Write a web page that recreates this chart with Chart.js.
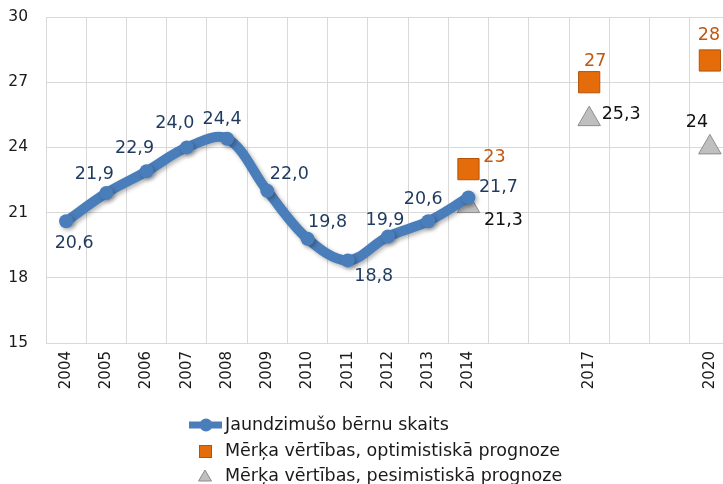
<!DOCTYPE html>
<html>
<head>
<meta charset="utf-8">
<script src="https://cdn.jsdelivr.net/npm/chart.js@4.4.0/dist/chart.umd.min.js"></script>
<style>
  html, body { margin: 0; padding: 0; background: #fff; overflow: hidden; }
  #wrap { width: 746px; height: 484px; }
</style>
</head>
<body>
<div id="wrap"><canvas id="chart" width="746" height="484"></canvas></div>
<script>
// dati
const years = ['2004', '2005', '2006', '2007', '2008', '2009', '2010', '2011', '2012', '2013', '2014',
  '2015', '2016', '2017', '2018', '2019', '2020'];
const shownYears = ['2004', '2005', '2006', '2007', '2008', '2009', '2010', '2011', '2012', '2013', '2014', '2017', '2020'];

const births = [20.6, 21.9, 22.9, 24.0, 24.4, 22.0, 19.8, 18.8, 19.9, 20.6, 21.7,
  null, null, null, null, null, null];
const optimistic = [null, null, null, null, null, null, null, null, null, null, 23,
  null, null, 27, null, null, 28];
const pessimistic = [null, null, null, null, null, null, null, null, null, null, 21.3,
  null, null, 25.3, null, null, 24];

const seriesNames = [
  'Jaundzimušo bērnu skaits',
  'Mērķa vērtības, optimistiskā prognoze',
  'Mērķa vērtības, pesimistiskā prognoze'
];

// etiķešu nobīdes (dx, dy) no punkta
const birthLabelOffsets = [[8, 22], [-12, -19], [-12, -23], [-12, -24], [-5, -19], [22, -16],
  [20, -16], [26, 16], [-3, -16], [-5, -22], [30, -10]];
const optLabelOffsets = { 10: [26, -12], 13: [6, -21], 16: [-1, -25] };
const pesLabelOffsets = { 10: [35, 14], 13: [32, -5], 16: [-13, -25] };

const FONT = '"DejaVu Sans", sans-serif';
const BLUE = '#4a7ebb';
const ORANGE = '#e46c0a';
const GREY = '#bfbfbf';

function fmt(v, digits) {
  return (digits ? v.toFixed(digits) : String(v)).replace('.', ',');
}

const lineShadow = {
  id: 'lineShadow',
  beforeDatasetDraw(chart, args) {
    if (args.index !== 0) return;
    const ctx = chart.ctx;
    ctx.save();
    ctx.shadowColor = 'rgba(0,0,0,0.3)';
    ctx.shadowBlur = 4;
    ctx.shadowOffsetX = 2;
    ctx.shadowOffsetY = 2;
  },
  afterDatasetDraw(chart, args) {
    if (args.index !== 0) return;
    chart.ctx.restore();
  }
};

const valueLabels = {
  id: 'valueLabels',
  afterDatasetsDraw(chart) {
    const ctx = chart.ctx;
    ctx.save();
    ctx.font = '17.5px ' + FONT;
    ctx.textAlign = 'center';
    ctx.textBaseline = 'middle';

    const sets = [
      { data: births, offs: birthLabelOffsets, color: '#1f3a5f', digits: 1 },
      { data: optimistic, offs: optLabelOffsets, color: '#c0580f', digits: 0 },
      { data: pessimistic, offs: pesLabelOffsets, color: '#111111', digits: 0 }
    ];
    sets.forEach((s, di) => {
      const meta = chart.getDatasetMeta(di);
      s.data.forEach((v, i) => {
        if (v === null) return;
        const el = meta.data[i];
        const off = s.offs[i] || [0, -20];
        ctx.fillStyle = s.color;
        ctx.fillText(fmt(v, s.digits), el.x + off[0], el.y + off[1]);
      });
    });
    ctx.restore();
  }
};

// leģenda vienā kolonnā zem ass
const stackedLegend = {
  id: 'stackedLegend',
  afterDraw(chart) {
    const ctx = chart.ctx;
    const mx = 205;
    const textX = 225;
    const rows = [425, 451, 476];
    ctx.save();
    ctx.font = '17.5px ' + FONT;
    ctx.textBaseline = 'middle';
    ctx.textAlign = 'left';

    // zilā līnija ar punktu
    ctx.strokeStyle = BLUE;
    ctx.lineWidth = 7;
    ctx.beginPath();
    ctx.moveTo(189, rows[0]);
    ctx.lineTo(222, rows[0]);
    ctx.stroke();
    ctx.fillStyle = BLUE;
    ctx.beginPath();
    ctx.arc(mx + 1, rows[0], 6.5, 0, Math.PI * 2);
    ctx.fill();

    // oranžais kvadrāts
    ctx.fillStyle = ORANGE;
    ctx.strokeStyle = '#b45408';
    ctx.lineWidth = 1;
    ctx.fillRect(mx - 6, rows[1] - 6, 13, 13);
    ctx.strokeRect(mx - 5.5, rows[1] - 5.5, 12, 12);

    // pelēkais trijstūris
    ctx.fillStyle = GREY;
    ctx.strokeStyle = '#8c8c8c';
    ctx.beginPath();
    ctx.moveTo(mx, rows[2] - 6);
    ctx.lineTo(mx + 6.5, rows[2] + 5);
    ctx.lineTo(mx - 6.5, rows[2] + 5);
    ctx.closePath();
    ctx.fill();
    ctx.stroke();

    ctx.fillStyle = '#1a1a1a';
    seriesNames.forEach((name, i) => ctx.fillText(name, textX, rows[i]));
    ctx.restore();
  }
};

new Chart(document.getElementById('chart').getContext('2d'), {
  type: 'line',
  data: {
    labels: years,
    datasets: [
      {
        label: seriesNames[0],
        data: births,
        borderColor: BLUE,
        backgroundColor: BLUE,
        borderWidth: 10,
        tension: 0.35,
        pointRadius: 7,
        pointBackgroundColor: BLUE,
        pointBorderColor: BLUE,
        pointBorderWidth: 0,
        spanGaps: false
      },
      {
        label: seriesNames[1],
        data: optimistic,
        showLine: false,
        pointStyle: 'rect',
        pointRadius: 15,
        pointBackgroundColor: ORANGE,
        pointBorderColor: '#b45408',
        pointBorderWidth: 1
      },
      {
        label: seriesNames[2],
        data: pessimistic,
        showLine: false,
        pointStyle: 'triangle',
        pointRadius: 13,
        pointBackgroundColor: GREY,
        pointBorderColor: '#8c8c8c',
        pointBorderWidth: 1
      }
    ]
  },
  options: {
    responsive: false,
    animation: false,
    layout: { padding: { top: 17, right: 0, bottom: 0, left: 0 } },
    plugins: {
      legend: { display: false },
      tooltip: { enabled: false }
    },
    scales: {
      x: {
        offset: true,
        grid: { offset: true, color: '#d9d9d9', drawTicks: false },
        border: { display: false },
        ticks: {
          autoSkip: false,
          maxRotation: 90,
          minRotation: 90,
          padding: 8,
          color: '#1a1a1a',
          font: { family: FONT, size: 15 },
          callback: function (value) {
            const y = this.getLabelForValue(value);
            return shownYears.includes(y) ? y : '';
          }
        },
        afterFit(scale) { scale.height = 141; }
      },
      y: {
        min: 15,
        max: 30,
        grid: { color: '#d9d9d9', drawTicks: false },
        border: { display: false },
        ticks: {
          stepSize: 3,
          padding: 18,
          color: '#1a1a1a',
          font: { family: FONT, size: 15.5 }
        },
        afterFit(scale) {
          scale.width = 46;
          scale.paddingTop = 0;
          scale.paddingBottom = 0;
        }
      }
    }
  },
  plugins: [lineShadow, valueLabels, stackedLegend]
});
</script>
</body>
</html>
